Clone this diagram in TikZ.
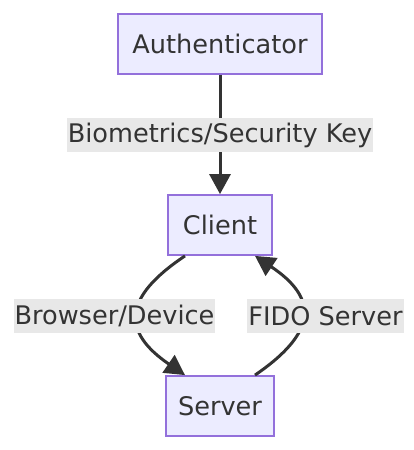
\documentclass[tikz,border=0pt]{standalone}
\usepackage{fontspec}
\setmainfont{DejaVu Sans}
\usetikzlibrary{arrows.meta}
\definecolor{nodefill}{HTML}{ECECFF}
\definecolor{nodeline}{HTML}{9370DB}
\definecolor{ink}{HTML}{333333}
\definecolor{lblbg}{HTML}{E8E8E8}
\begin{document}
\begin{tikzpicture}[x=1pt,y=1pt,
  box/.style={draw=nodeline,fill=nodefill,line width=1.8pt,minimum height=60pt,inner sep=0pt,text=ink,font=\fontsize{25.6}{30}\selectfont},
  lbl/.style={fill=lblbg,inner xsep=1pt,inner ysep=0pt,minimum height=34pt,text=ink,font=\fontsize{25.6}{30}\selectfont},
  edge/.style={draw=ink,line width=3pt,-{Triangle[length=20pt,width=21pt]}}]
\useasboundingbox (0,0) rectangle (414,-450);
\node[box,minimum width=204pt] (auth) at (220,-44) {Authenticator};
\node[box,minimum width=104pt] (client) at (220,-225) {Client};
\node[box,minimum width=108pt] (server) at (220,-406) {Server};
\draw[edge] (auth) -- (client);
\draw[edge] ([xshift=-35pt]client.south) .. controls (122,-298) and (122,-332) .. ([xshift=-35pt]server.north);
\draw[edge] ([xshift=35pt]server.north) .. controls (318,-332) and (318,-298) .. ([xshift=35pt]client.south);
\node[lbl] (l1) at (220,-135) {Biometrics/Security Key};
\node[lbl] (l2) at (114.5,-316) {Browser/Device};
\node[lbl] (l3) at (325.5,-316) {FIDO Server};
\end{tikzpicture}
\end{document}
